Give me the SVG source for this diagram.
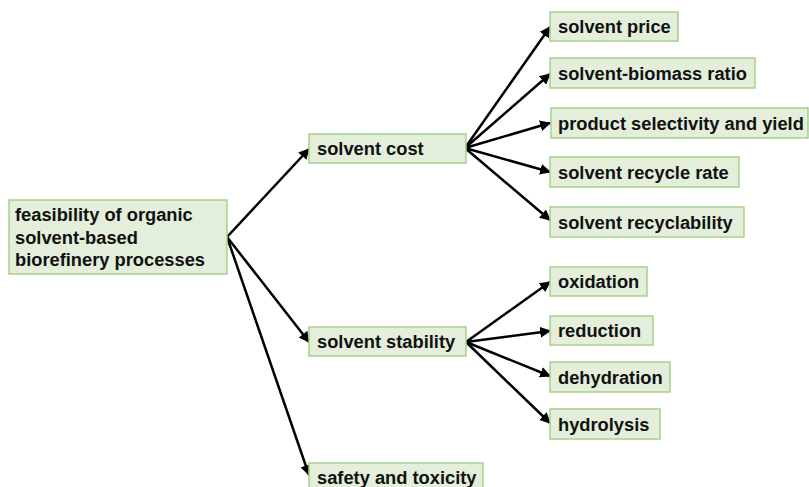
<svg xmlns="http://www.w3.org/2000/svg" width="809" height="487" viewBox="0 0 809 487">
<style>
.box{fill:#e3efda;stroke:#a8cf8d;stroke-width:1.5}
.t{font-family:"Liberation Sans",Arial,sans-serif;font-weight:bold;font-size:18.3px;fill:#111}
.c{stroke:#000;stroke-width:2.5;fill:none;marker-end:url(#ah)}
</style>
<defs>
<marker id="ah" viewBox="0 0 10 10" refX="9" refY="5" markerWidth="4.4" markerHeight="4.4" markerUnits="strokeWidth" orient="auto">
<path d="M0,0 L10,5 L0,10 z" fill="#000"/>
</marker>
</defs>
<rect width="809" height="487" fill="#fff"/>
<g id="connectors">
<line class="c" x1="227" y1="237" x2="309" y2="149"/>
<line class="c" x1="227" y1="237" x2="309" y2="342"/>
<line class="c" x1="227" y1="237" x2="309" y2="475"/>
<line class="c" x1="465" y1="148" x2="550" y2="27"/>
<line class="c" x1="465" y1="148" x2="550" y2="74"/>
<line class="c" x1="465" y1="148" x2="550" y2="123"/>
<line class="c" x1="465" y1="148" x2="550" y2="172"/>
<line class="c" x1="465" y1="148" x2="550" y2="220"/>
<line class="c" x1="466" y1="342" x2="550" y2="282"/>
<line class="c" x1="466" y1="342" x2="550" y2="331"/>
<line class="c" x1="466" y1="342" x2="550" y2="376"/>
<line class="c" x1="466" y1="342" x2="550" y2="423"/>
</g>
<g id="root"><rect class="box" x="9" y="200" width="218" height="74"/>
<text class="t" x="15" y="221">feasibility of organic</text>
<text class="t" x="15" y="243.5">solvent-based</text>
<text class="t" x="15" y="266">biorefinery processes</text></g>
<g id="solvent-cost"><rect class="box" x="309" y="134" width="157" height="29"/><text class="t" x="317" y="155">solvent cost</text></g>
<g id="solvent-stability"><rect class="box" x="309" y="327" width="157" height="29"/><text class="t" x="317" y="348">solvent stability</text></g>
<g id="safety"><rect class="box" x="309" y="463" width="174" height="30"/><text class="t" x="317" y="484">safety and toxicity</text></g>
<g id="solvent-price"><rect class="box" x="550" y="12" width="128" height="29"/><text class="t" x="558" y="33">solvent price</text></g>
<g id="solvent-biomass"><rect class="box" x="550" y="58" width="205" height="30"/><text class="t" x="558" y="80">solvent-biomass ratio</text></g>
<g id="product-selectivity"><rect class="box" x="551" y="108" width="257" height="30"/><text class="t" x="558" y="130">product selectivity and yield</text></g>
<g id="recycle-rate"><rect class="box" x="550" y="157" width="189" height="30"/><text class="t" x="558" y="179">solvent recycle rate</text></g>
<g id="recyclability"><rect class="box" x="550" y="207" width="194" height="30"/><text class="t" x="558" y="229">solvent recyclability</text></g>
<g id="oxidation"><rect class="box" x="550" y="267" width="97" height="29"/><text class="t" x="558" y="288">oxidation</text></g>
<g id="reduction"><rect class="box" x="550" y="316" width="103" height="29"/><text class="t" x="558" y="337">reduction</text></g>
<g id="dehydration"><rect class="box" x="550" y="362" width="120" height="30"/><text class="t" x="558" y="384">dehydration</text></g>
<g id="hydrolysis"><rect class="box" x="550" y="409" width="110" height="30"/><text class="t" x="558" y="431">hydrolysis</text></g>
</svg>
